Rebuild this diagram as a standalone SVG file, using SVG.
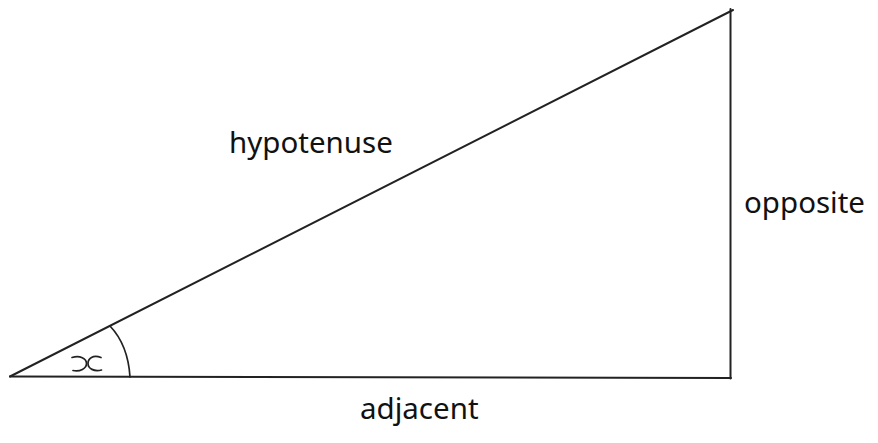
<svg xmlns="http://www.w3.org/2000/svg" width="878" height="443" viewBox="0 0 878 443">
<style>
.edge{fill:none;stroke:#222;stroke-width:2;stroke-linecap:round}
.thin{fill:none;stroke:#222;stroke-width:1.7;stroke-linecap:round}
.lbl{font-family:"Noto Sans","Liberation Sans",sans-serif;font-size:29.5px;fill:#111}
</style>
<rect width="878" height="443" fill="#fff"/>
<g id="connectors">
<path class="edge" d="M10,376.5 L733,10"/>
<path class="edge" d="M730.5,9 L730.5,378.5"/>
<path class="edge" d="M10,376.5 L731,378"/>
</g>
<g id="angle">
<path class="thin" d="M110,326 Q128,345 130,377"/>
<path class="thin" d="M72,357.5 C80,355 86.5,358.5 86.5,363.5 C86.5,368.5 80,372 73,370.5"/>
<path class="thin" d="M101,357.5 C93,354.5 88,358.5 88,363.5 C88,368.5 94,372 101.5,370"/>
</g>
<g id="hypotenuse"><text class="lbl" x="229" y="153">hypotenuse</text></g>
<g id="opposite"><text class="lbl" x="744" y="213">opposite</text></g>
<g id="adjacent"><text class="lbl" x="360" y="419">adjacent</text></g>
</svg>
